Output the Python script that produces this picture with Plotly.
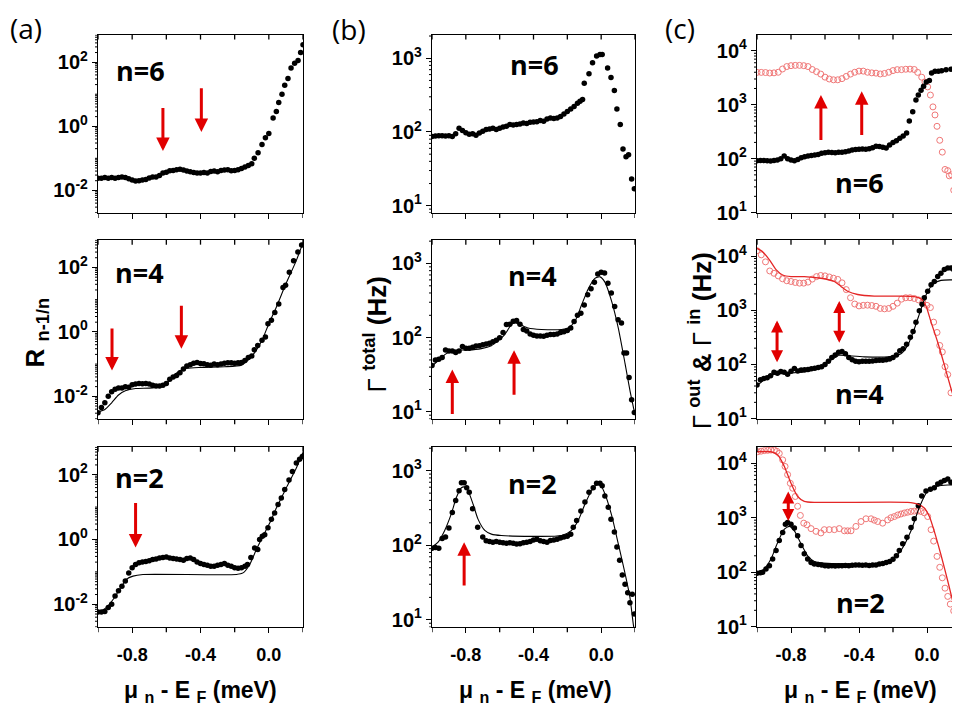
import math
import plotly.graph_objects as go

# ---------------- data (x in meV, y values) ----------------
# Panel (a): R_{n-1/n}
A6_DOTS = [[-1.00,.024],[-0.98,.024],[-0.96,.025],[-0.94,.024],[-0.92,.025],[-0.90,.024],[-0.88,.025],[-0.86,.026],
           [-0.84,.025],[-0.82,.023],[-0.80,.021],[-0.78,.0195],[-0.76,.020],[-0.74,.021],[-0.72,.022],[-0.70,.0245],
           [-0.68,.026],[-0.66,.026],[-0.64,.029],[-0.62,.035],[-0.60,.037],[-0.58,.041],[-0.56,.042],[-0.54,.044],
           [-0.52,.046],[-0.50,.043],[-0.48,.040],[-0.46,.038],[-0.44,.036],[-0.42,.035],[-0.40,.035],[-0.38,.036],
           [-0.36,.035],[-0.34,.039],[-0.32,.040],[-0.30,.038],[-0.28,.042],[-0.26,.043],[-0.24,.044],[-0.22,.041],
           [-0.20,.042],[-0.18,.044],[-0.16,.048],[-0.14,.054],[-0.12,.060],[-0.10,.068],[-0.085,.10],[-0.063,.15],
           [-0.04,.27],[-0.02,.44],[0.0,.59],[0.025,1.8],[0.044,2.9],[0.058,5.5],[0.077,10],[0.093,19],[0.112,31],
           [0.13,66],[0.151,93],[0.171,112],[0.186,200],[0.2,350]]

A4_DOTS = [[-1.00,.0031],[-0.98,.0045],[-0.96,.0063],[-0.94,.010],[-0.92,.014],[-0.90,.0166],[-0.88,.018],[-0.86,.018],
           [-0.84,.020],[-0.82,.019],[-0.80,.023],[-0.78,.024],[-0.76,.025],[-0.74,.0245],[-0.72,.025],[-0.70,.024],
           [-0.68,.022],[-0.66,.021],[-0.64,.021],[-0.62,.022],[-0.60,.025],[-0.58,.034],[-0.56,.040],[-0.54,.044],
           [-0.52,.054],[-0.50,.071],[-0.48,.087],[-0.46,.095],[-0.44,.107],[-0.42,.112],[-0.40,.105],[-0.38,.102],
           [-0.36,.095],[-0.34,.093],[-0.32,.10],[-0.30,.095],[-0.28,.10],[-0.26,.107],[-0.24,.11],[-0.22,.11],
           [-0.20,.107],[-0.18,.11],[-0.16,.112],[-0.14,.13],[-0.12,.16],[-0.10,.18],[-0.085,.28],[-0.065,.38],
           [-0.04,.55],[-0.02,.69],[-0.005,1.8],[0.015,2.3],[0.035,4.0],[0.058,7.4],[0.083,24],[0.098,28],
           [0.12,71],[0.145,160],[0.17,300],[0.192,500]]
A4_FIT = [[-1.00,.0033],[-0.96,.0039],[-0.92,.0063],[-0.88,.011],[-0.84,.0148],[-0.78,.0174],[-0.70,.018],[-0.64,.020],
          [-0.60,.025],[-0.56,.042],[-0.52,.062],[-0.48,.074],[-0.40,.079],[-0.26,.083],[-0.16,.093],[-0.12,.135],
          [-0.08,.24],[-0.04,.55],[0.00,1.8],[0.04,5.2],[0.10,31],[0.16,160],[0.20,590]]

A2_DOTS = [[-1.00,.0058],[-0.98,.0058],[-0.96,.0060],[-0.94,.0079],[-0.92,.010],[-0.90,.018],[-0.88,.026],[-0.86,.036],
           [-0.84,.052],[-0.82,.093],[-0.80,.135],[-0.78,.17],[-0.76,.19],[-0.74,.20],[-0.72,.21],[-0.70,.22],
           [-0.68,.24],[-0.66,.25],[-0.64,.27],[-0.62,.28],[-0.60,.29],[-0.58,.27],[-0.56,.26],[-0.54,.25],
           [-0.52,.24],[-0.50,.23],[-0.48,.26],[-0.46,.27],[-0.44,.24],[-0.42,.20],[-0.40,.18],[-0.38,.17],
           [-0.36,.16],[-0.34,.15],[-0.32,.15],[-0.30,.16],[-0.28,.17],[-0.26,.18],[-0.24,.16],[-0.22,.15],
           [-0.20,.135],[-0.18,.13],[-0.16,.135],[-0.14,.15],[-0.125,.17],[-0.105,.28],[-0.083,.55],[-0.065,.49],
           [-0.054,1.0],[-0.038,1.26],[-0.024,1.41],[-0.005,2.3],[0.015,4.2],[0.034,6.6],[0.054,12],[0.073,19],
           [0.093,35],[0.118,68],[0.138,126],[0.161,230],[0.18,300],[0.196,363]]
A2_FIT = [[-1.0,.0055],[-0.951,.0079],[-0.912,.014],[-0.873,.029],[-0.834,.059],[-0.795,.074],[-0.737,.083],
          [-0.19,.083],[-0.151,.093],[-0.112,.17],[-0.073,.49],[-0.034,1.26],[0.005,3.2],[0.044,9.3],[0.102,39],
          [0.161,160],[0.2,490]]

# Panel (b): Gamma_total (Hz)
B6_DOTS = [[-1.00,87],[-0.98,88],[-0.96,89],[-0.94,89],[-0.92,88],[-0.90,89],[-0.88,87],[-0.86,95],[-0.84,112],
           [-0.82,105],[-0.80,98],[-0.78,93],[-0.76,95],[-0.74,90],[-0.72,97],[-0.70,102],[-0.68,108],[-0.66,110],
           [-0.64,112],[-0.62,108],[-0.60,112],[-0.58,117],[-0.56,120],[-0.54,126],[-0.52,124],[-0.50,126],
           [-0.48,128],[-0.46,132],[-0.44,130],[-0.42,135],[-0.40,137],[-0.38,138],[-0.36,143],[-0.34,140],
           [-0.32,150],[-0.30,155],[-0.28,152],[-0.26,155],[-0.24,162],[-0.22,175],[-0.20,190],[-0.18,205],
           [-0.16,222],[-0.14,245],[-0.125,262],[-0.11,275],[-0.10,457],[-0.072,617],[-0.051,870],[-0.027,1070],
           [-0.007,1120],[0.006,1120],[0.038,740],[0.058,550],[0.078,365],[0.093,205],[0.113,126],[0.129,59],
           [0.147,46],[0.162,49],[0.18,23],[0.196,17]]

B4_DOTS = [[-1.00,42],[-0.98,50],[-0.96,51],[-0.94,54],[-0.92,68],[-0.90,66],[-0.88,66],[-0.86,63],[-0.84,66],
           [-0.82,76],[-0.80,72],[-0.78,72],[-0.76,74],[-0.74,77],[-0.72,78],[-0.70,80],[-0.68,82],[-0.66,84],
           [-0.64,88],[-0.62,92],[-0.60,100],[-0.58,117],[-0.56,150],[-0.54,152],[-0.52,166],[-0.50,170],
           [-0.48,151],[-0.46,129],[-0.44,123],[-0.42,112],[-0.40,108],[-0.38,105],[-0.36,105],[-0.34,104],
           [-0.32,108],[-0.30,110],[-0.28,110],[-0.26,112],[-0.24,117],[-0.22,120],[-0.20,125],[-0.18,135],
           [-0.16,165],[-0.14,200],[-0.12,214],[-0.10,275],[-0.08,380],[-0.06,457],[-0.04,560],[-0.02,720],
           [0.00,760],[0.02,745],[0.04,540],[0.06,400],[0.08,263],[0.10,174],[0.12,158],[0.135,62],[0.15,62],
           [0.165,29],[0.18,14.5],[0.196,9.8]]
B4_FIT = [[-1.0,41],[-0.945,54],[-0.905,63],[-0.866,68],[-0.787,68],[-0.708,71],[-0.649,78],[-0.609,91],
          [-0.57,110],[-0.53,151],[-0.51,158],[-0.481,151],[-0.432,135],[-0.353,129],[-0.234,129],[-0.195,135],
          [-0.155,166],[-0.116,275],[-0.076,457],[-0.037,630],[-0.007,660],[0.022,560],[0.062,309],[0.101,135],
          [0.141,45],[0.17,19.5],[0.2,9.1]]

B2_DOTS = [[-1.00,91],[-0.98,93],[-0.96,91],[-0.94,123],[-0.92,129],[-0.90,170],[-0.88,275],[-0.86,398],
           [-0.84,537],[-0.826,690],[-0.81,690],[-0.795,590],[-0.78,513],[-0.76,309],[-0.73,174],[-0.70,129],
           [-0.68,115],[-0.66,112],[-0.64,110],[-0.62,112],[-0.60,110],[-0.58,108],[-0.56,106],[-0.54,108],
           [-0.52,106],[-0.50,104],[-0.48,105],[-0.46,108],[-0.44,110],[-0.42,112],[-0.40,118],[-0.38,120],
           [-0.36,115],[-0.34,112],[-0.32,110],[-0.30,116],[-0.28,118],[-0.26,120],[-0.24,125],[-0.22,129],
           [-0.20,132],[-0.18,140],[-0.165,174],[-0.145,214],[-0.12,288],[-0.096,380],[-0.072,513],[-0.047,590],
           [-0.027,676],[-0.007,676],[0.006,630],[0.022,457],[0.042,324],[0.058,224],[0.078,151],[0.093,95],
           [0.109,63],[0.125,40],[0.141,30],[0.157,23],[0.17,17],[0.184,22],[0.196,12]]
B2_FIT = [[-1.0,95],[-0.964,110],[-0.925,158],[-0.886,263],[-0.856,437],[-0.826,590],[-0.807,603],[-0.787,537],
          [-0.757,355],[-0.728,224],[-0.688,158],[-0.649,141],[-0.59,135],[-0.234,135],[-0.175,158],[-0.136,214],
          [-0.096,355],[-0.057,537],[-0.027,660],[-0.007,660],[0.022,490],[0.062,251],[0.101,105],[0.141,42],
          [0.17,20],[0.19,8.7],[0.2,6.5]]

# Panel (c): Gamma_out (black) & Gamma_in (red)
C6_OUT = [[-1.00,91],[-0.98,92],[-0.96,92],[-0.94,91],[-0.92,90],[-0.90,92],[-0.88,94],[-0.86,100],[-0.84,112],
          [-0.82,100],[-0.80,94],[-0.78,91],[-0.76,96],[-0.74,104],[-0.72,108],[-0.70,112],[-0.68,114],[-0.66,117],
          [-0.64,120],[-0.62,126],[-0.60,128],[-0.58,132],[-0.56,130],[-0.54,129],[-0.52,132],[-0.50,132],
          [-0.48,135],[-0.46,138],[-0.44,144],[-0.42,148],[-0.40,150],[-0.38,151],[-0.36,150],[-0.34,152],
          [-0.32,160],[-0.30,170],[-0.28,168],[-0.26,162],[-0.24,158],[-0.22,180],[-0.20,200],[-0.18,215],
          [-0.16,240],[-0.14,262],[-0.12,300],[-0.104,501],[-0.084,741],[-0.065,1230],[-0.051,1510],[-0.035,1860],
          [-0.02,2190],[-0.004,2630],[0.014,2820],[0.027,3890],[0.047,4170],[0.067,4170],[0.086,4270],[0.112,4470],
          [0.141,4570],[0.165,4570],[0.184,5370],[0.196,5750]]
C6_IN = [[-1.000,3980],[-0.975,3980],[-0.950,3950],[-0.925,3870],[-0.900,3900],[-0.875,4000],[-0.850,4600],
         [-0.825,5100],[-0.800,5300],[-0.775,5370],[-0.750,5370],[-0.725,5300],[-0.700,5100],[-0.675,4500],
         [-0.650,4100],[-0.625,3700],[-0.600,3250],[-0.575,3000],[-0.550,2900],[-0.525,2900],[-0.500,3050],
         [-0.475,3350],[-0.450,3700],[-0.425,4000],[-0.400,4200],[-0.375,4200],[-0.350,4000],[-0.325,3900],
         [-0.300,3850],[-0.275,3720],[-0.250,3800],[-0.225,4000],[-0.200,4300],[-0.175,4470],[-0.150,4470],
         [-0.125,4550],[-0.100,4570],[-0.075,4500],[-0.055,3980],[-0.031,3240],[-0.012,2630],[0.004,2140],
         [0.02,1510],[0.035,912],[0.047,646],[0.059,398],[0.075,219],[0.09,132],[0.106,63],[0.122,60],
         [0.131,48],[0.145,50],[0.157,26],[0.173,17],[0.188,13.5]]

C4_OUT = [[-1.00,42],[-0.98,52],[-0.96,55],[-0.94,57],[-0.92,62],[-0.90,72],[-0.88,69],[-0.86,74],[-0.84,72],
          [-0.82,66],[-0.80,75],[-0.78,84],[-0.76,76],[-0.74,79],[-0.72,80],[-0.70,81],[-0.68,83],[-0.66,85],
          [-0.64,88],[-0.62,91],[-0.60,100],[-0.58,115],[-0.56,135],[-0.54,150],[-0.52,168],[-0.50,174],
          [-0.48,158],[-0.46,135],[-0.44,122],[-0.42,114],[-0.40,112],[-0.38,114],[-0.36,115],[-0.34,115],
          [-0.32,116],[-0.30,118],[-0.28,120],[-0.26,120],[-0.24,122],[-0.22,126],[-0.20,135],[-0.18,150],
          [-0.16,178],[-0.14,195],[-0.12,235],[-0.098,316],[-0.082,407],[-0.065,603],[-0.045,977],[-0.029,1290],
          [-0.016,1700],[0.004,2240],[0.024,2950],[0.043,3390],[0.063,4170],[0.082,4790],[0.102,5620],
          [0.122,6030],[0.141,6030],[0.157,5620],[0.176,5250],[0.196,4570]]
C4_OUT_FIT = [[-1.0,41],[-0.957,52],[-0.898,66],[-0.82,69],[-0.702,74],[-0.624,91],[-0.565,120],[-0.516,148],
              [-0.467,145],[-0.369,138],[-0.231,138],[-0.153,158],[-0.114,224],[-0.075,447],[-0.035,1050],
              [0.004,2240],[0.043,3160],[0.082,3550],[0.141,3630],[0.2,3630]]
C4_IN = [[-1.000,12500],[-0.975,10500],[-0.950,7800],[-0.925,5300],[-0.900,4800],[-0.875,4300],[-0.850,3800],
         [-0.825,3500],[-0.800,3390],[-0.775,3250],[-0.750,3160],[-0.725,3160],[-0.700,3300],[-0.675,3750],
         [-0.650,4170],[-0.625,4370],[-0.600,4300],[-0.575,4100],[-0.550,3900],[-0.525,3700],[-0.500,3200],
         [-0.475,2400],[-0.450,1700],[-0.425,1300],[-0.400,1200],[-0.375,1230],[-0.350,1240],[-0.325,1220],
         [-0.300,1180],[-0.275,1080],[-0.250,1060],[-0.225,1080],[-0.200,1180],[-0.175,1350],[-0.150,1600],
         [-0.125,1700],[-0.100,1700],[-0.075,1650],[-0.050,1550],[-0.025,1410],[0.000,1230],[0.020,1120],
         [0.039,603],[0.059,389],[0.075,224],[0.09,170],[0.106,91],[0.122,65],[0.141,30]]
C4_IN_FIT = [[-1.0,13800],[-0.967,12000],[-0.927,8500],[-0.888,5620],[-0.849,4470],[-0.8,4170],[-0.722,4170],
             [-0.624,3890],[-0.545,3390],[-0.506,2750],[-0.467,2240],[-0.408,1950],[-0.31,1820],[-0.153,1820],
             [-0.075,1780],[-0.035,1620],[-0.006,1200],[0.024,603],[0.063,257],[0.102,98],[0.141,36],
             [0.171,18],[0.19,10],[0.2,8]]

C2_OUT = [[-1.00,96],[-0.98,98],[-0.967,100],[-0.947,115],[-0.927,132],[-0.908,174],[-0.888,251],[-0.869,380],
          [-0.849,537],[-0.833,759],[-0.82,813],[-0.80,759],[-0.78,646],[-0.761,468],[-0.741,309],[-0.722,219],
          [-0.702,174],[-0.682,151],[-0.663,141],[-0.64,138],[-0.62,135],[-0.60,132],[-0.58,130],[-0.56,132],
          [-0.54,130],[-0.52,132],[-0.50,131],[-0.48,133],[-0.46,132],[-0.44,134],[-0.42,135],[-0.40,136],
          [-0.38,134],[-0.36,135],[-0.34,133],[-0.32,135],[-0.30,136],[-0.28,142],[-0.26,145],[-0.24,150],
          [-0.22,158],[-0.20,172],[-0.18,200],[-0.163,251],[-0.143,331],[-0.118,437],[-0.094,661],[-0.075,955],
          [-0.051,1660],[-0.031,2510],[-0.006,3090],[0.02,3310],[0.043,3550],[0.063,4170],[0.082,4470],
          [0.102,4790],[0.122,5130],[0.141,4470],[0.161,4470],[0.18,4680],[0.196,4790]]
C2_OUT_FIT = [[-1.0,93],[-0.957,115],[-0.918,174],[-0.878,355],[-0.839,617],[-0.81,692],[-0.78,575],[-0.741,331],
              [-0.702,200],[-0.663,158],[-0.584,145],[-0.271,145],[-0.212,162],[-0.153,251],[-0.094,575],
              [-0.045,1550],[0.004,3090],[0.063,3800],[0.122,3980],[0.2,3980]]
C2_IN = [[-0.996,16200],[-0.976,16600],[-0.957,17000],[-0.937,17200],[-0.918,17400],[-0.898,17400],[-0.883,16500],
         [-0.869,15100],[-0.849,11500],[-0.835,8710],[-0.82,6170],[-0.804,4270],[-0.79,3470],[-0.775,2450],
         [-0.761,1620],[-0.745,1100],[-0.725,794],[-0.706,741],[-0.682,631],[-0.653,562],[-0.624,525],[-0.604,603],
         [-0.575,603],[-0.545,603],[-0.516,631],[-0.486,575],[-0.467,575],[-0.447,575],[-0.418,692],[-0.388,851],
         [-0.359,955],[-0.329,955],[-0.31,900],[-0.29,851],[-0.261,794],[-0.231,912],[-0.212,1000],[-0.192,1050],
         [-0.172,1120],[-0.153,1170],[-0.133,1220],[-0.114,1260],[-0.094,1300],[-0.075,1320],[-0.055,1320],
         [-0.035,1300],[-0.016,1230],[0.004,1050],[0.024,603],[0.039,372],[0.059,195],[0.075,123],[0.09,79],
         [0.106,51],[0.122,36],[0.137,26],[0.157,19.5],[0.173,20]]
C2_IN_FIT = [[-1.0,16200],[-0.918,16200],[-0.878,14100],[-0.839,8710],[-0.8,4270],[-0.761,2450],[-0.722,2000],
             [-0.663,1910],[-0.114,1910],[-0.055,1780],[-0.016,1510],[0.014,1050],[0.043,562],[0.082,209],
             [0.122,69],[0.161,22],[0.19,9.5],[0.2,7]]

X_LABEL_TICKS = [-0.8, -0.4, 0.0]
X_LABEL_TEXT = ["<b>-0.8</b>", "<b>-0.4</b>", "<b>0.0</b>"]
X_OTHER_TICKS = [-1.0, -0.6, -0.2, 0.2]
N_LABELS = ["n=6", "n=4", "n=2"]
PANEL_LETTERS = ["(a)", "(b)", "(c)"]

# ---------------- styling / layout ----------------
W, H = 960, 720
COL_PX = [(90, 295), (424, 627), (749, 953)]
ROW_PX = [(27, 208), (235, 417), (445, 628)]
Y_RANGE = [[-2.71, 2.86], [0.9, 3.32], [0.99, 4.3]]
Y_LABELED = [[-2, 0, 2], [1, 2, 3], [1, 2, 3, 4]]
Y_DEC_SPAN = [(-3, 3), (0, 4), (0, 5)]
FONT = "Arial"
RED_LINE = "rgb(228,38,38)"
RED_PT = "rgb(240,120,120)"
RED_ARROW = "rgb(225,0,0)"
TICK_LEN = 5
MINOR_LEN = 3

PANELS = {
    (0, 0): dict(out=A6_DOTS),
    (1, 0): dict(out=A4_DOTS, out_fit=A4_FIT),
    (2, 0): dict(out=A2_DOTS, out_fit=A2_FIT),
    (0, 1): dict(out=B6_DOTS),
    (1, 1): dict(out=B4_DOTS, out_fit=B4_FIT),
    (2, 1): dict(out=B2_DOTS, out_fit=B2_FIT),
    (0, 2): dict(out=C6_OUT, inn=C6_IN),
    (1, 2): dict(out=C4_OUT, out_fit=C4_OUT_FIT, inn=C4_IN, in_fit=C4_IN_FIT),
    (2, 2): dict(out=C2_OUT, out_fit=C2_OUT_FIT, inn=C2_IN, in_fit=C2_IN_FIT),
}

fig = go.Figure()
layout = {}
annotations = []
shapes = []


def xs(pts):
    return [p[0] for p in pts]


def ys(pts):
    return [p[1] for p in pts]


def tick_shape(xref, yref, x0, y0, x1, y1, w):
    return dict(type="line", xref=xref, yref=yref, x0=x0, y0=y0, x1=x1, y1=y1,
                line=dict(color="black", width=w), layer="above")


AXREF = {}
for r in range(3):
    for c in range(3):
        k = r * 3 + c + 1
        sfx = "" if k == 1 else str(k)
        xa, ya = "x" + sfx, "y" + sfx
        AXREF[k] = (xa, ya)
        d = PANELS[(r, c)]
        if "inn" in d:
            fig.add_trace(go.Scatter(x=xs(d["inn"]), y=ys(d["inn"]), xaxis=xa, yaxis=ya, mode="markers",
                                     marker=dict(symbol="circle-open", size=6, color=RED_PT, line=dict(width=1))))
        fig.add_trace(go.Scatter(x=xs(d["out"]), y=ys(d["out"]), xaxis=xa, yaxis=ya, mode="markers",
                                 marker=dict(symbol="circle", size=5.5, color="black", line=dict(width=0))))
        if "in_fit" in d:
            fig.add_trace(go.Scatter(x=xs(d["in_fit"]), y=ys(d["in_fit"]), xaxis=xa, yaxis=ya, mode="lines",
                                     line=dict(color=RED_LINE, width=1.3, shape="spline", smoothing=0.6)))
        if "out_fit" in d:
            fig.add_trace(go.Scatter(x=xs(d["out_fit"]), y=ys(d["out_fit"]), xaxis=xa, yaxis=ya, mode="lines",
                                     line=dict(color="black", width=1.1, shape="spline", smoothing=0.6)))

        x0, x1 = COL_PX[c]
        y0, y1 = ROW_PX[r]
        wpx, hpx = x1 - x0, y1 - y0
        layout["xaxis" + sfx] = dict(
            domain=[x0 / W, x1 / W], anchor=ya, range=[-1.0, 0.2], tickmode="array", tickvals=X_LABEL_TICKS,
            ticktext=X_LABEL_TEXT, showticklabels=(r == 2), ticks="outside", ticklen=TICK_LEN, tickwidth=1.3,
            tickcolor="black", showline=True, linecolor="black", linewidth=1.3, mirror=True,
            showgrid=False, zeroline=False, ticklabelstandoff=6,
            tickfont=dict(family=FONT, size=18, color="black", weight=700))
        lab = Y_LABELED[c]
        layout["yaxis" + sfx] = dict(
            domain=[1 - y1 / H, 1 - y0 / H], anchor=xa, type="log", range=Y_RANGE[c], tickmode="array",
            tickvals=[10.0 ** e for e in lab], ticktext=[f"<b>10<sup>{e}</sup></b>" for e in lab],
            ticks="outside", ticklen=TICK_LEN, tickwidth=1.3, tickcolor="black",
            showline=True, linecolor="black", linewidth=1.3, mirror=True, showgrid=False, zeroline=False,
            tickfont=dict(family=FONT, size=20, color="black", weight=700))

        # extra tick marks drawn as shapes
        for v in X_LABEL_TICKS + X_OTHER_TICKS:          # top ticks, pointing inward
            shapes.append(tick_shape(xa, f"{ya} domain", v, 1, v, 1 - TICK_LEN / hpx, 1.3))
        for v in X_OTHER_TICKS:                          # unlabelled bottom ticks, outward
            shapes.append(tick_shape(xa, f"{ya} domain", v, 0, v, -TICK_LEN / hpx, 1.3))
        e0, e1 = Y_DEC_SPAN[c]
        lo, hi = Y_RANGE[c]
        for e in range(e0, e1):                           # log minor ticks (and unlabelled decades)
            for m in range(1, 10):
                if m == 1 and e in lab:
                    continue
                val = m * 10.0 ** e
                if lo <= math.log10(val) <= hi:
                    shapes.append(tick_shape(f"{xa} domain", ya, 0, val, -MINOR_LEN / wpx, val, 1))

# n= labels
N_POS = {(0, 0): (132, 63), (1, 0): (131, 268), (2, 0): (131, 476),
         (0, 1): (526, 57), (1, 1): (524, 271), (2, 1): (524, 482),
         (0, 2): (851, 177), (1, 2): (851, 391), (2, 2): (852, 603)}
for (r, c), (px, py) in N_POS.items():
    annotations.append(dict(x=px / W, y=1 - py / H, xref="paper", yref="paper", text=f"<b>{N_LABELS[r]}</b>",
                            showarrow=False, xanchor="center", yanchor="middle",
                            font=dict(family="Open Sans", size=27, color="black")))

# panel letters
for (px, py), t in zip([(18, 20), (341, 21), (672, 20)], PANEL_LETTERS):
    annotations.append(dict(x=px / W, y=1 - py / H, xref="paper", yref="paper", text=t, showarrow=False,
                            xanchor="center", yanchor="middle",
                            font=dict(family="Open Sans", size=28, color="black")))

# axis titles
for px in [192, 527, 852]:
    annotations.append(dict(x=px / W, y=1 - 693 / H, xref="paper", yref="paper",
                            text="<b>μ <sub>n</sub> - E <sub>F</sub> (meV)</b>", showarrow=False,
                            xanchor="center", yanchor="middle",
                            font=dict(family=FONT, size=23, color="black")))
YTITLES = [(28, 330, "<b>R</b> <sub><b>n-1/n</b></sub>"),
           (367, 331, "Γ <sup><b>total</b></sup> <b>(Hz)</b>"),
           (692, 338, "Γ <sup><b>out</b></sup> <b>&amp;</b> Γ <sup><b>in</b></sup> <b>(Hz)</b>")]
for px, py, t in YTITLES:
    annotations.append(dict(x=px / W, y=1 - py / H, xref="paper", yref="paper", text=t, showarrow=False,
                            textangle=-90, xanchor="center", yanchor="middle",
                            font=dict(family=FONT, size=26, color="black")))

# red arrows: (panel k, x, tail log10 y, head log10 y, double-headed)
ARROWS = [(1, -0.62, 0.615, -0.77, False), (1, -0.395, 1.23, -0.18, False),
          (4, -0.918, 0.15, -1.2, False), (4, -0.512, 0.86, -0.52, False),
          (7, -0.78, 1.17, -0.25, False),
          (5, -0.88, 0.95, 1.57, False), (5, -0.515, 1.21, 1.83, False),
          (8, -0.81, 1.44, 2.04, False),
          (3, -0.624, 2.32, 3.18, False), (3, -0.384, 2.41, 3.25, False),
          (6, -0.882, 2.84, 2.04, True), (6, -0.516, 3.2, 2.4, True),
          (9, -0.816, 3.51, 2.94, True)]
for k, x, yt, yh, dbl in ARROWS:
    xa, ya = AXREF[k]
    a = dict(x=x, y=yh, ax=x, ay=yt, xref=xa, yref=ya, axref=xa, ayref=ya, text="",
             showarrow=True, arrowhead=2, arrowsize=0.9, arrowwidth=3, arrowcolor=RED_ARROW, standoff=0)
    if dbl:
        a.update(arrowsize=0.8, arrowside="end+start", startarrowhead=2, startarrowsize=0.8, startstandoff=0)
    annotations.append(a)

fig.update_layout(**layout)
fig.update_layout(width=W, height=H, margin=dict(l=0, r=0, t=0, b=0), showlegend=False,
                  paper_bgcolor="white", plot_bgcolor="white", annotations=annotations, shapes=shapes,
                  font=dict(family=FONT, color="black"))
fig.write_html("out.html")
